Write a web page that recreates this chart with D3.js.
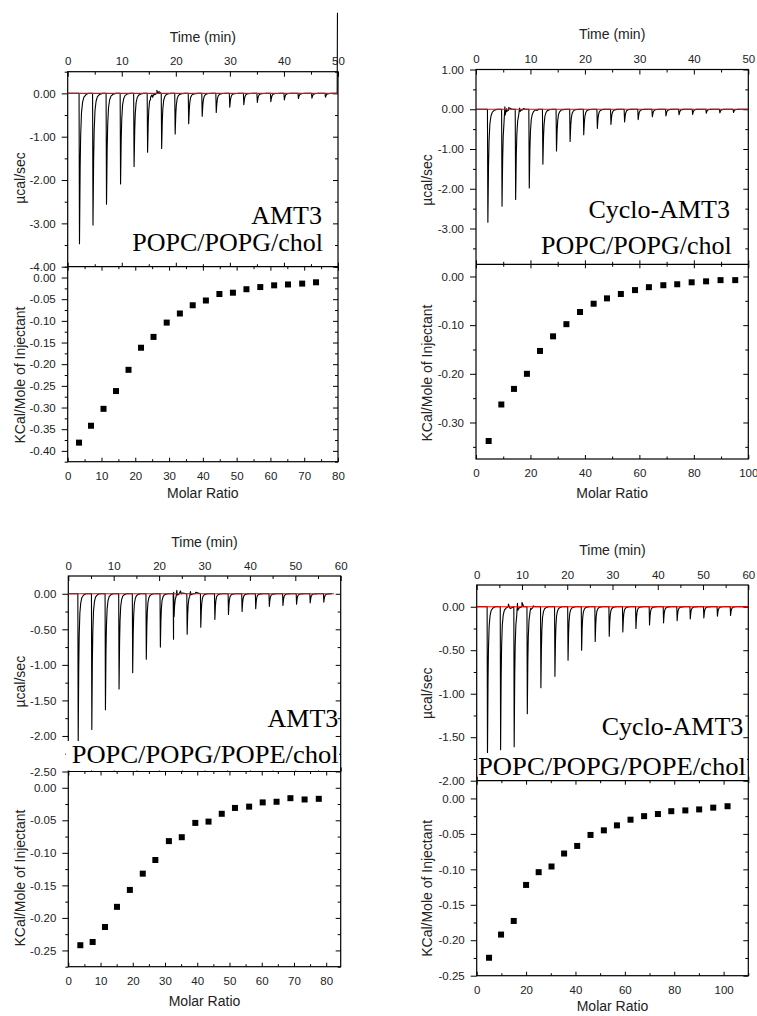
<!DOCTYPE html>
<html>
<head>
<meta charset="utf-8">
<script src="https://cdn.jsdelivr.net/npm/d3@7"></script>
<style>
  body { margin: 0; background: #fff; }
  text { font-family: Arial, "Liberation Sans", sans-serif; fill: #222; }
  .tick line, .domain { stroke: #000; }
</style>
</head>
<body>
<div id="scene"></div>
<script>
// shape of one injection peak (minutes after injection, fraction of depth)
const peakShapeOffset = [0, 0.08, 0.2, 0.3, 0.45, 0.65, 0.9, 1.3, 1.8];
const peakShapeFrac   = [0, 1, 0.5, 0.28, 0.13, 0.06, 0.025, 0.008, 0];

// AMT3, POPC/POPG/chol
const amtCholTimes  = [2.1, 4.6, 7.1, 9.7, 12.2, 14.7, 17.3, 19.8, 22.3, 24.8, 27.4, 29.9, 32.5, 35.0, 37.5, 40.0, 42.6, 45.1, 47.6];
const amtCholDepths = [-3.47, -3.04, -2.56, -2.09, -1.69, -1.36, -1.27, -0.94, -0.70, -0.53, -0.44, -0.32, -0.26, -0.21, -0.19, -0.15, -0.12, -0.11, -0.09];
const amtCholNoise  = [[15.3, -0.15], [15.7, -0.09], [16.1, -0.03], [16.5, 0.07], [16.7, 0.0], [16.9, 0.04]];
const amtCholTail   = [[49.85, 0], [49.9, 1.86]];
const amtCholRatio  = [3.35, 6.9, 10.6, 14.3, 18.0, 21.7, 25.4, 29.3, 33.2, 37.0, 40.9, 44.9, 48.9, 52.9, 57.0, 61.1, 65.2, 69.4, 73.5];
const amtCholHeat   = [-0.381, -0.342, -0.303, -0.262, -0.213, -0.162, -0.137, -0.104, -0.083, -0.064, -0.053, -0.038, -0.035, -0.027, -0.022, -0.018, -0.016, -0.014, -0.011];

// Cyclo-AMT3, POPC/POPG/chol
const cycCholTimes  = [2.1, 4.7, 7.2, 9.7, 12.2, 14.7, 17.2, 19.7, 22.2, 24.7, 27.2, 29.7, 32.3, 34.8, 37.2, 39.7, 42.2, 44.7, 47.2];
const cycCholDepths = [-2.84, -2.44, -2.27, -1.98, -1.38, -1.05, -0.81, -0.64, -0.48, -0.38, -0.32, -0.26, -0.19, -0.17, -0.14, -0.13, -0.10, -0.09, -0.08];
const cycCholNoise  = [[5.3, 0.06], [5.6, 0.01], [6.0, 0.04], [6.4, 0.02], [8.0, 0.03], [8.4, -0.01], [8.8, 0.02], [10.6, -0.05], [11.2, -0.03]];
const cycCholTail   = [[50, 0]];
const cycCholRatio  = [4.65, 9.3, 13.95, 18.7, 23.5, 28.3, 33.2, 38.2, 43.2, 48.1, 53.2, 58.4, 63.5, 68.8, 73.9, 79.2, 84.5, 89.8, 95.2];
const cycCholHeat   = [-0.338, -0.263, -0.231, -0.200, -0.153, -0.123, -0.098, -0.073, -0.056, -0.045, -0.036, -0.028, -0.022, -0.018, -0.016, -0.012, -0.010, -0.0075, -0.0075];

// AMT3, POPC/POPG/POPE/chol
const amtPeTimes  = [2.1, 5.1, 8.1, 11.1, 14.1, 17.1, 20.2, 23.1, 26.1, 29.1, 32.2, 35.2, 38.2, 41.2, 44.2, 47.2, 50.2, 53.2, 56.2];
const amtPeDepths = [-2.08, -1.91, -1.63, -1.34, -1.11, -0.92, -0.75, -0.64, -0.57, -0.47, -0.36, -0.29, -0.25, -0.21, -0.18, -0.165, -0.146, -0.13, -0.12];
const amtPeNoise  = [[23.2, 0.02], [23.9, 0.05], [24.3, -0.01], [24.7, 0.04], [25.2, 0.01], [26.9, 0.03], [27.5, 0.0], [28.1, 0.02]];
const amtPeTail   = [[57.5, 0]];
const amtPeRatio  = [3.73, 7.55, 11.38, 15.1, 19.1, 23.1, 27.0, 31.2, 35.2, 39.4, 43.5, 47.6, 51.7, 56.1, 60.3, 64.6, 68.9, 73.3, 77.7];
const amtPeHeat   = [-0.242, -0.237, -0.214, -0.183, -0.157, -0.132, -0.111, -0.082, -0.076, -0.054, -0.052, -0.040, -0.031, -0.029, -0.0225, -0.0215, -0.016, -0.018, -0.017];

// Cyclo-AMT3, POPC/POPG/POPE/chol
const cycPeTimes  = [2.3, 5.2, 8.2, 11.1, 14.1, 17.2, 20.1, 23.1, 26.1, 29.2, 32.2, 35.1, 38.1, 41.2, 44.2, 47.1, 50.1, 53.1, 56.0];
const cycPeDepths = [-1.72, -1.645, -1.61, -1.23, -0.93, -0.80, -0.615, -0.50, -0.40, -0.34, -0.29, -0.25, -0.21, -0.185, -0.16, -0.14, -0.13, -0.11, -0.10];
const cycPeNoise  = [[7.0, 0.03], [7.4, -0.02], [9.0, 0.04], [9.4, -0.01], [10.0, 0.05], [10.4, 0.0], [11.9, -0.02], [12.5, 0.01]];
const cycPeTail   = [[60, 0]];
const cycPeRatio  = [5.0, 9.86, 15.0, 20.0, 25.1, 30.3, 35.4, 40.7, 46.1, 51.5, 56.8, 62.3, 67.8, 73.4, 78.8, 84.5, 90.1, 95.8, 101.6];
const cycPeHeat   = [-0.2247, -0.192, -0.1728, -0.122, -0.104, -0.096, -0.0777, -0.067, -0.0515, -0.045, -0.038, -0.030, -0.025, -0.022, -0.018, -0.0169, -0.0155, -0.013, -0.011];

// layout of the four panels
const panels = [
  {
    times: amtCholTimes, depths: amtCholDepths, noise: amtCholNoise, tail: amtCholTail, baseEnd: 49.9,
    ratio: amtCholRatio, heat: amtCholHeat,
    x0: 67.7, x1: 338, top: 71.7, mid: 266.7, bot: 461.7,
    tMax: 50, uDomain: [-4, 0.5], uMajor: [0, -1, -2, -3, -4], uMinor: [0.5, -0.5, -1.5, -2.5, -3.5],
    rMax: 80, rMajor: [0, 10, 20, 30, 40, 50, 60, 70, 80], rMinor: [5, 15, 25, 35, 45, 55, 65, 75],
    lDomain: [-0.425, 0.025], lMajor: [0, -0.05, -0.1, -0.15, -0.2, -0.25, -0.3, -0.35, -0.4],
    lMinor: [0.025, -0.025, -0.075, -0.125, -0.175, -0.225, -0.275, -0.325, -0.375, -0.425],
    titleY: 36.7, molarY: 493, yLabX: 20, uLabY: 178, lLabY: 375,
    labels: [
      { text: "AMT3", x: 322, y: 224, anchor: "end" },
      { text: "POPC/POPG/chol", x: 323, y: 250.5, anchor: "end" }
    ]
  },
  {
    times: cycCholTimes, depths: cycCholDepths, noise: cycCholNoise, tail: cycCholTail, baseEnd: 50,
    ratio: cycCholRatio, heat: cycCholHeat,
    x0: 476, x1: 748.3, top: 69.5, mid: 264.3, bot: 459,
    tMax: 50, uDomain: [-3.9, 1.0], uMajor: [1, 0, -1, -2, -3], uMinor: [0.5, -0.5, -1.5, -2.5, -3.5],
    rMax: 100, rMajor: [0, 20, 40, 60, 80, 100], rMinor: [10, 30, 50, 70, 90],
    lDomain: [-0.375, 0.025], lMajor: [0, -0.1, -0.2, -0.3], lMinor: [-0.05, -0.15, -0.25, -0.35],
    titleY: 34.3, molarY: 493, yLabX: 426.7, uLabY: 180, lLabY: 373,
    labels: [
      { text: "Cyclo-AMT3", x: 730, y: 218.3, anchor: "end" },
      { text: "POPC/POPG/chol", x: 731.7, y: 254, anchor: "end" }
    ]
  },
  {
    times: amtPeTimes, depths: amtPeDepths, noise: amtPeNoise, tail: amtPeTail, baseEnd: 58.5,
    ratio: amtPeRatio, heat: amtPeHeat,
    x0: 68.3, x1: 340.7, top: 576, mid: 771.5, bot: 966.7,
    tMax: 60, uDomain: [-2.5, 0.25], uMajor: [0, -0.5, -1, -1.5, -2, -2.5], uMinor: [-0.25, -0.75, -1.25, -1.75, -2.25],
    rMax: 84.5, rMajor: [0, 10, 20, 30, 40, 50, 60, 70, 80], rMinor: [5, 15, 25, 35, 45, 55, 65, 75],
    lDomain: [-0.275, 0.025], lMajor: [0, -0.05, -0.1, -0.15, -0.2, -0.25],
    lMinor: [-0.025, -0.075, -0.125, -0.175, -0.225, -0.275],
    titleY: 542.3, molarY: 1001, yLabX: 20, uLabY: 681.7, lLabY: 878,
    box: { x: 66, y: 741, w: 273, h: 29.5 },
    labels: [
      { text: "AMT3", x: 338.3, y: 726.7, anchor: "end" },
      { text: "POPC/POPG/POPE/chol", x: 71.7, y: 762.5, anchor: "start", len: 267 }
    ]
  },
  {
    times: cycPeTimes, depths: cycPeDepths, noise: cycPeNoise, tail: cycPeTail, baseEnd: 60,
    ratio: cycPeRatio, heat: cycPeHeat,
    x0: 476.7, x1: 748.3, top: 585, mid: 780.7, bot: 975.7,
    tMax: 60, uDomain: [-2.0, 0.25], uMajor: [0, -0.5, -1, -1.5, -2], uMinor: [-0.25, -0.75, -1.25, -1.75],
    rMax: 110, rMajor: [0, 20, 40, 60, 80, 100], rMinor: [10, 30, 50, 70, 90, 110],
    lDomain: [-0.25, 0.025], lMajor: [0, -0.05, -0.1, -0.15, -0.2, -0.25],
    lMinor: [-0.025, -0.075, -0.125, -0.175, -0.225],
    titleY: 550, molarY: 1006.5, yLabX: 426.7, uLabY: 693.3, lLabY: 888.3,
    box: { x: 478, y: 753, w: 269, h: 27 },
    labels: [
      { text: "Cyclo-AMT3", x: 743.3, y: 735, anchor: "end" },
      { text: "POPC/POPG/POPE/chol", x: 478, y: 774.5, anchor: "start", len: 268 }
    ]
  }
];

const svg = d3.select("#scene").append("svg")
  .attr("width", 757)
  .attr("height", 1016)
  .style("display", "block");

svg.append("rect").attr("width", 757).attr("height", 1016).attr("fill", "#fff");

const fmt = d => d.toFixed(2);

function buildTrace(p) {
  const pts = [[0, 0]];
  p.times.forEach((t, i) => {
    peakShapeOffset.forEach((o, k) => pts.push([t + o, p.depths[i] * peakShapeFrac[k]]));
  });
  p.noise.forEach(d => pts.push(d));
  pts.sort((a, b) => a[0] - b[0]);
  p.tail.forEach(d => pts.push(d));
  return pts;
}

function tickAxis(g, axis, transform) {
  const a = g.append("g").attr("transform", transform).call(axis);
  a.select(".domain").remove();
  a.selectAll("text").style("font-size", "11.5px").attr("fill", "#222");
  return a;
}

panels.forEach(p => {
  const g = svg.append("g");

  const t = d3.scaleLinear().domain([0, p.tMax]).range([p.x0, p.x1]);
  const yu = d3.scaleLinear().domain(p.uDomain).range([p.mid, p.top]);
  const r = d3.scaleLinear().domain([0, p.rMax]).range([p.x0, p.x1]);
  const yl = d3.scaleLinear().domain(p.lDomain).range([p.bot, p.mid]);

  const tMajor = d3.range(0, p.tMax + 1, 10);
  const tMinor = d3.range(5, p.tMax, 10);
  const uMinor = p.uMinor.filter(v => v >= p.uDomain[0] && v <= p.uDomain[1]);
  const rMinor = p.rMinor.filter(v => v <= p.rMax);

  // upper panel: thermogram
  tickAxis(g, d3.axisTop(t).tickValues(tMajor).tickSize(-5).tickPadding(6.5).tickFormat(d3.format("d")), `translate(0,${p.top})`);
  tickAxis(g, d3.axisTop(t).tickValues(tMinor).tickSize(-3).tickFormat(""), `translate(0,${p.top})`);
  tickAxis(g, d3.axisBottom(t).tickValues(tMajor).tickSize(-4).tickFormat(""), `translate(0,${p.mid})`);
  tickAxis(g, d3.axisBottom(t).tickValues(tMinor).tickSize(-2.5).tickFormat(""), `translate(0,${p.mid})`);
  tickAxis(g, d3.axisLeft(yu).tickValues(p.uMajor).tickSize(6).tickPadding(6).tickFormat(fmt), `translate(${p.x0},0)`);
  tickAxis(g, d3.axisLeft(yu).tickValues(uMinor).tickSize(3).tickFormat(""), `translate(${p.x0},0)`);
  tickAxis(g, d3.axisRight(yu).tickValues(p.uMajor).tickSize(-5).tickFormat(""), `translate(${p.x1},0)`);
  tickAxis(g, d3.axisRight(yu).tickValues(uMinor).tickSize(-3).tickFormat(""), `translate(${p.x1},0)`);

  // lower panel: integrated heats
  tickAxis(g, d3.axisTop(r).tickValues(p.rMajor).tickSize(-4).tickFormat(""), `translate(0,${p.mid})`);
  tickAxis(g, d3.axisTop(r).tickValues(rMinor).tickSize(-2.5).tickFormat(""), `translate(0,${p.mid})`);
  tickAxis(g, d3.axisBottom(r).tickValues(p.rMajor).tickSize(-4).tickPadding(10).tickFormat(d3.format("d")), `translate(0,${p.bot})`);
  tickAxis(g, d3.axisBottom(r).tickValues(rMinor).tickSize(-2.5).tickFormat(""), `translate(0,${p.bot})`);
  tickAxis(g, d3.axisLeft(yl).tickValues(p.lMajor).tickSize(6).tickPadding(6).tickFormat(fmt), `translate(${p.x0},0)`);
  tickAxis(g, d3.axisLeft(yl).tickValues(p.lMinor).tickSize(3).tickFormat(""), `translate(${p.x0},0)`);
  tickAxis(g, d3.axisRight(yl).tickValues(p.lMajor).tickSize(-5).tickFormat(""), `translate(${p.x1},0)`);
  tickAxis(g, d3.axisRight(yl).tickValues(p.lMinor).tickSize(-3).tickFormat(""), `translate(${p.x1},0)`);

  // frames
  g.append("rect")
    .attr("x", p.x0).attr("y", p.top)
    .attr("width", p.x1 - p.x0).attr("height", p.bot - p.top)
    .attr("fill", "none").attr("stroke", "#000").attr("stroke-width", 1.2);
  g.append("line")
    .attr("x1", p.x0).attr("x2", p.x1).attr("y1", p.mid).attr("y2", p.mid)
    .attr("stroke", "#000").attr("stroke-width", 1.2);

  // trace
  const line = d3.line().x(d => t(d[0])).y(d => yu(d[1]));
  g.append("path")
    .datum(buildTrace(p))
    .attr("d", line)
    .attr("fill", "none")
    .attr("stroke", "#000")
    .attr("stroke-width", 1.1)
    .attr("stroke-linejoin", "round");

  g.append("path")
    .datum([[0, 0], [p.baseEnd, 0]])
    .attr("d", line)
    .attr("fill", "none")
    .attr("stroke", "#f00")
    .attr("stroke-width", 1.2);

  // squares
  const pts = p.ratio.map((x, i) => ({ x: x, y: p.heat[i] }));
  g.selectAll("rect.pt")
    .data(pts)
    .enter().append("rect")
    .attr("class", "pt")
    .attr("x", d => r(d.x) - 3)
    .attr("y", d => yl(d.y) - 3)
    .attr("width", 6)
    .attr("height", 6)
    .attr("fill", "#000");

  // axis titles
  g.append("text")
    .attr("x", (p.x0 + p.x1) / 2)
    .attr("y", p.titleY)
    .attr("dy", "0.35em")
    .attr("text-anchor", "middle")
    .style("font-size", "14px")
    .text("Time (min)");

  g.append("text")
    .attr("x", (p.x0 + p.x1) / 2)
    .attr("y", p.molarY)
    .attr("dy", "0.35em")
    .attr("text-anchor", "middle")
    .style("font-size", "14px")
    .text("Molar Ratio");

  g.append("text")
    .attr("transform", `translate(${p.yLabX},${p.uLabY}) rotate(-90)`)
    .attr("dy", "0.35em")
    .attr("text-anchor", "middle")
    .style("font-size", "14px")
    .text("µcal/sec");

  g.append("text")
    .attr("transform", `translate(${p.yLabX},${p.lLabY}) rotate(-90)`)
    .attr("dy", "0.35em")
    .attr("text-anchor", "middle")
    .style("font-size", "14px")
    .text("KCal/Mole of Injectant");

  // sample labels
  if (p.box) {
    g.append("rect")
      .attr("x", p.box.x).attr("y", p.box.y)
      .attr("width", p.box.w).attr("height", p.box.h)
      .attr("fill", "#fff");
  }
  p.labels.forEach(l => {
    const tx = g.append("text")
      .attr("x", l.x)
      .attr("y", l.y)
      .attr("text-anchor", l.anchor)
      .style("font-family", "'Liberation Serif', 'Times New Roman', serif")
      .style("font-size", "26px")
      .style("fill", "#000")
      .text(l.text);
    if (l.len) tx.attr("textLength", l.len).attr("lengthAdjust", "spacingAndGlyphs");
  });
});
</script>
</body>
</html>
